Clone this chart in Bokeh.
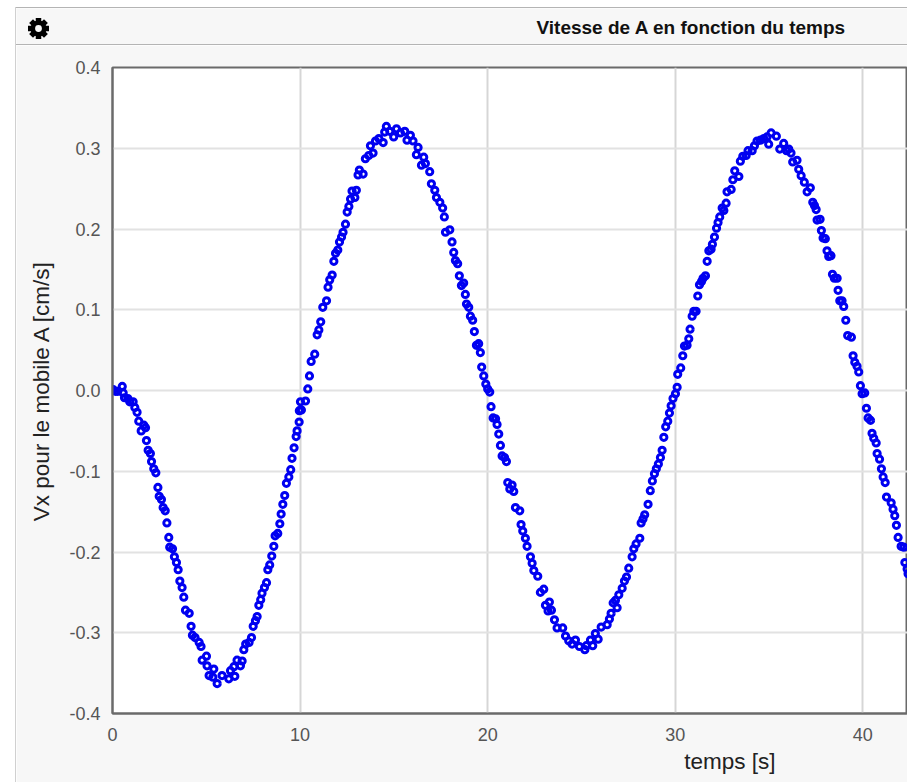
from bokeh.plotting import figure
from bokeh.layouts import column
from bokeh.models import ColumnDataSource, FixedTicker, Label, PrintfTickFormatter, Title
from bokeh.embed import file_html
from bokeh.resources import INLINE

chart_title = "Vitesse de A en fonction du temps"
x_title = "temps [s]"
y_title = "Vx pour le mobile A [cm/s]"
x_ticks = [0, 10, 20, 30, 40]
y_ticks = [-0.4, -0.3, -0.2, -0.1, 0.0, 0.1, 0.2, 0.3, 0.4]

segment_1_t = [0.04,0.16,0.28,0.52,0.57,0.64,0.82,0.92,1.10,1.19,1.31,1.40,1.53,1.67,1.76,1.81,1.90,2.02,2.08,2.20,2.31,2.42,2.49,2.61,2.70,2.81,2.90,3.00,3.05,3.20,3.30,3.41,3.50,3.59,3.71,3.80,3.89,4.09,4.19,4.26,4.40,4.62,4.72,4.78,5.01,5.04,5.15,5.40,5.35,5.58,5.84,6.20,6.29,6.47,6.52,6.64,6.82,6.91,7.00,7.10,7.28,7.41,7.50,7.62,7.71,7.80,7.90,7.97,8.10,8.21,8.28,8.38,8.49,8.60,8.67,8.81,8.92,8.99,9.08,9.18,9.27,9.40,9.50,9.57,9.68,9.79,9.84,9.95,9.96,10.02]
segment_1_v = [0.001,-0.001,-0.001,0.005,-0.003,-0.009,-0.010,-0.014,-0.014,-0.021,-0.027,-0.038,-0.050,-0.043,-0.046,-0.062,-0.074,-0.078,-0.088,-0.097,-0.102,-0.120,-0.131,-0.135,-0.145,-0.149,-0.164,-0.182,-0.194,-0.196,-0.206,-0.213,-0.222,-0.236,-0.244,-0.256,-0.272,-0.276,-0.292,-0.303,-0.306,-0.312,-0.317,-0.334,-0.329,-0.341,-0.353,-0.345,-0.355,-0.363,-0.353,-0.357,-0.347,-0.342,-0.354,-0.334,-0.341,-0.335,-0.321,-0.314,-0.312,-0.306,-0.292,-0.285,-0.280,-0.266,-0.259,-0.251,-0.244,-0.238,-0.222,-0.216,-0.205,-0.193,-0.180,-0.177,-0.165,-0.153,-0.141,-0.130,-0.115,-0.107,-0.098,-0.084,-0.071,-0.057,-0.050,-0.039,-0.025,-0.014]

segment_2_t = [10.07,10.29,10.41,10.50,10.59,10.78,10.91,11.00,11.10,11.21,11.41,11.49,11.58,11.71,11.80,11.89,12.01,12.10,12.21,12.29,12.42,12.51,12.60,12.69,12.92,12.77,13.00,13.09,13.16,13.36,13.48,13.66,13.89,13.75,14.02,14.20,14.43,14.51,14.60,14.78,14.99,15.14,15.35,15.58,15.70,15.88,16.02,16.29,16.20,16.59,16.47,16.68,16.91,17.00,17.18,17.27,17.45,17.60,17.69,17.75,17.98,18.10,18.19,18.28,18.40,18.49,18.60,18.72,18.81,18.87,18.99,19.08,19.20,19.29,19.40,19.52,19.61,19.68,19.79,19.90,20.00,20.11,20.18]
segment_2_v = [-0.024,-0.013,0.002,0.018,0.036,0.045,0.069,0.075,0.085,0.103,0.111,0.128,0.137,0.143,0.160,0.170,0.174,0.184,0.190,0.196,0.206,0.221,0.228,0.237,0.239,0.247,0.248,0.267,0.273,0.268,0.287,0.291,0.294,0.303,0.309,0.312,0.307,0.320,0.327,0.321,0.314,0.324,0.319,0.321,0.310,0.316,0.309,0.301,0.292,0.289,0.279,0.281,0.271,0.256,0.248,0.239,0.233,0.226,0.215,0.196,0.199,0.184,0.171,0.161,0.157,0.142,0.130,0.133,0.119,0.107,0.103,0.092,0.087,0.073,0.056,0.058,0.047,0.029,0.018,0.008,0.002,-0.002,-0.020]

segment_3_t = [20.29,20.42,20.50,20.59,20.68,20.77,20.90,21.00,21.07,21.30,21.18,21.39,21.48,21.71,21.78,21.87,22.01,22.10,22.28,22.37,22.46,22.67,22.81,22.99,23.08,23.29,23.22,23.40,23.56,23.70,24.00,24.15,24.32,24.68,24.50,24.89,25.18,25.26,25.48,25.60,25.74,25.89,26.05,26.37,26.49,26.58,26.69,26.90,26.81,26.99,27.17,27.29,27.40,27.52,27.70,27.79,27.91,28.11,28.18,28.28,28.37,28.55,28.67,28.78,28.89,28.99,29.10,29.21,29.30,29.39,29.49,29.60,29.69,29.78,29.88,30.01,30.10,30.13]
segment_3_v = [-0.034,-0.035,-0.042,-0.054,-0.068,-0.081,-0.083,-0.088,-0.114,-0.117,-0.122,-0.125,-0.145,-0.149,-0.166,-0.174,-0.183,-0.193,-0.206,-0.214,-0.223,-0.230,-0.250,-0.246,-0.266,-0.262,-0.273,-0.272,-0.284,-0.294,-0.294,-0.304,-0.310,-0.309,-0.314,-0.317,-0.321,-0.316,-0.309,-0.316,-0.301,-0.308,-0.293,-0.290,-0.283,-0.276,-0.263,-0.269,-0.260,-0.253,-0.245,-0.236,-0.231,-0.220,-0.206,-0.196,-0.190,-0.183,-0.164,-0.159,-0.154,-0.141,-0.124,-0.112,-0.103,-0.097,-0.091,-0.083,-0.074,-0.058,-0.045,-0.038,-0.028,-0.019,-0.010,-0.004,0.004,0.020]

segment_4_t = [30.29,30.40,30.49,30.63,30.72,30.79,30.90,30.99,31.11,31.20,31.29,31.40,31.48,31.61,31.70,31.79,31.91,31.98,32.09,32.20,32.28,32.37,32.50,32.59,32.71,32.76,32.98,33.07,33.17,33.39,33.47,33.60,33.78,33.88,34.10,34.22,34.36,34.54,34.72,34.89,34.98,35.11,35.39,35.57,35.78,35.93,36.05,36.17,36.26,36.49,36.58,36.71,36.88,37.20,37.03,37.33,37.42,37.51,37.56,37.72,37.79,37.88,38.00,38.09,38.18,38.30,38.38,38.48,38.63,38.68,38.77,38.89,38.98,39.09,39.19,39.39,39.48,39.57,39.69,39.78,39.87,39.96,40.10,40.19]
segment_4_v = [0.028,0.043,0.055,0.056,0.064,0.076,0.092,0.098,0.098,0.117,0.131,0.135,0.139,0.142,0.160,0.173,0.175,0.181,0.190,0.201,0.208,0.215,0.226,0.223,0.232,0.246,0.249,0.261,0.272,0.265,0.284,0.290,0.291,0.297,0.297,0.303,0.309,0.310,0.312,0.314,0.305,0.319,0.315,0.299,0.306,0.297,0.299,0.294,0.283,0.285,0.274,0.266,0.258,0.251,0.246,0.233,0.229,0.224,0.211,0.212,0.198,0.189,0.188,0.173,0.166,0.167,0.144,0.139,0.139,0.124,0.111,0.111,0.104,0.087,0.068,0.066,0.043,0.035,0.030,0.023,0.006,-0.004,-0.003,-0.022]

segment_5_t = [40.28,40.41,40.49,40.58,40.71,40.76,40.89,40.99,41.08,41.19,41.26,41.51,41.61,41.70,41.79,41.88,42.04,42.18,42.24,42.36,42.41]
segment_5_v = [-0.034,-0.037,-0.053,-0.059,-0.065,-0.078,-0.085,-0.097,-0.107,-0.114,-0.132,-0.139,-0.147,-0.155,-0.167,-0.182,-0.193,-0.194,-0.213,-0.221,-0.227]

temps = segment_1_t + segment_2_t + segment_3_t + segment_4_t + segment_5_t
vitesse = segment_1_v + segment_2_v + segment_3_v + segment_4_v + segment_5_v

FONT = "Liberation Sans"
W = 891

# header band: a strip of its own above the plot, one data unit per pixel
head = figure(width=W, height=38, output_backend="svg", toolbar_location=None,
              x_range=(0, W), y_range=(38, 0), x_axis_location=None, y_axis_location=None,
              min_border=0, outline_line_color=None,
              background_fill_color="#f7f7f7", border_fill_color="#f7f7f7")
head.frame_align = False
head.grid.visible = False
head.add_layout(Label(x=675, y=19, text=chart_title, text_font=FONT, text_font_style="bold",
                      text_font_size="19px", text_color="#111111", text_align="center", text_baseline="middle"))
head.styles = {"border-top": "1px solid #b4b4b4", "border-bottom": "1px solid #b4b4b4", "box-sizing": "border-box"}
# settings icon
head.rect(x=[22, 22, 22, 22], y=[20, 20, 20, 20], width=21, height=5.5,
          angle=[0, 0.7854, 1.5708, 2.3562], fill_color="black", line_color=None)
head.circle(x=[22], y=[20], radius=8, fill_color="black", line_color=None)
head.circle(x=[22], y=[20], radius=3.4, fill_color="#f7f7f7", line_color=None)

p = figure(width=W, height=737, output_backend="svg", toolbar_location=None,
           x_range=(0, 42.38), y_range=(-0.4, 0.4),
           min_border_left=96, min_border_right=0, min_border_top=22, min_border_bottom=69,
           background_fill_color="white", border_fill_color="#f7f7f7",
           outline_line_color="#6a6a6a", outline_line_width=2)
p.frame_align = False

p.xaxis.ticker = FixedTicker(ticks=x_ticks)
p.yaxis.ticker = FixedTicker(ticks=y_ticks)
p.yaxis.formatter = PrintfTickFormatter(format="%.1f")
for ax in (p.xaxis[0], p.yaxis[0]):
    ax.major_tick_line_color = None
    ax.minor_tick_line_color = None
    ax.axis_line_color = "#6a6a6a"
    ax.axis_line_width = 2
    ax.major_label_text_font = FONT
    ax.major_label_text_font_size = "18px"
    ax.major_label_text_color = "#555555"
p.xaxis.major_label_standoff = 8
p.yaxis.major_label_standoff = 6
p.yaxis.axis_label = y_title
p.yaxis.axis_label_text_font = FONT
p.yaxis.axis_label_text_font_style = "normal"
p.yaxis.axis_label_text_font_size = "22.5px"
p.yaxis.axis_label_text_color = "#222222"
p.yaxis.axis_label_standoff = 12

p.xgrid.grid_line_color = "#d6d6d6"
p.xgrid.grid_line_width = 2
p.ygrid.grid_line_color = "#e2e2e2"
p.ygrid.grid_line_width = 2

source = ColumnDataSource(data=dict(t=temps, v=vitesse))
p.scatter("t", "v", source=source, size=6.2, marker="circle",
          fill_color=None, line_color="#0000f0", line_width=3)

p.add_layout(Title(text=x_title, align="right", offset=132, text_font=FONT,
                   text_font_style="normal", text_font_size="22.5px", text_color="#222222",
                   standoff=6), "below")

page = column(head, p, spacing=0)
page.styles = {"margin-left": "15px", "margin-top": "7px", "border-left": "1.5px solid #d0d0d0"}

open("out.html", "w").write(file_html(page, INLINE))
